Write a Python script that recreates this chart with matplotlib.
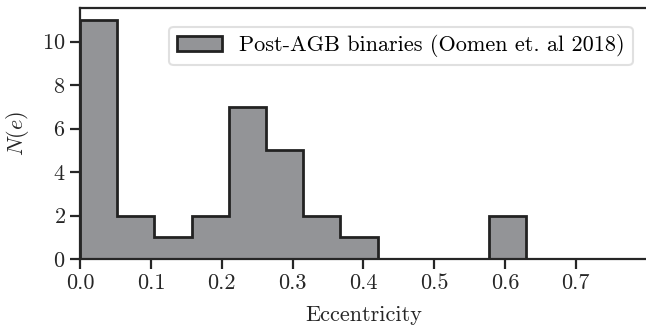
import numpy as np
import matplotlib
matplotlib.use("Agg")
import matplotlib.pyplot as plt

# eccentricity histogram, post-AGB binaries
bin_edges = np.linspace(0.0, 0.63, 13)
counts = [11, 2, 1, 2, 7, 5, 2, 1, 0, 0, 0, 2]
label = "Post-AGB binaries (Oomen et. al 2018)"

plt.rcParams["font.family"] = "serif"
plt.rcParams["font.serif"] = ["cmr10"]
plt.rcParams["mathtext.fontset"] = "cm"
plt.rcParams["axes.unicode_minus"] = False
plt.rcParams["axes.formatter.use_mathtext"] = True

fig = plt.figure(figsize=(6.46, 3.31), dpi=100)
ax = fig.add_axes([0.124, 0.2175, 0.877, 0.7585])

ax.hist(bin_edges[:-1], bins=bin_edges, weights=counts, histtype="stepfilled",
        facecolor="#939497", edgecolor="#222222", linewidth=2, label=label)

ax.set_xlim(0, 0.8)
ax.set_ylim(0, 11.55)
ax.set_xticks([0.0, 0.1, 0.2, 0.3, 0.4, 0.5, 0.6, 0.7])
ax.set_xticklabels(["0.0", "0.1", "0.2", "0.3", "0.4", "0.5", "0.6", "0.7"])
ax.set_yticks([0, 2, 4, 6, 8, 10])

for side in ["left", "bottom", "top"]:
    ax.spines[side].set_color("#262626")
    ax.spines[side].set_linewidth(1.6)
ax.spines["right"].set_visible(False)
ax.tick_params(length=7, width=1.6, color="#262626", labelsize=16, labelcolor="#262626")

ax.set_xlabel("Eccentricity", fontsize=16, color="#262626", labelpad=9)
ax.set_ylabel(r"$N(e)$", fontsize=16, color="#262626", labelpad=8)

leg = ax.legend(loc="upper right", fontsize=16, frameon=True, fancybox=True,
                handlelength=2.0, borderpad=0.35, bbox_to_anchor=(0.995, 0.97))
leg.get_frame().set_edgecolor("#d9d9d9")
leg.get_frame().set_linewidth(1.5)

fig.savefig("out.png", dpi=100)
